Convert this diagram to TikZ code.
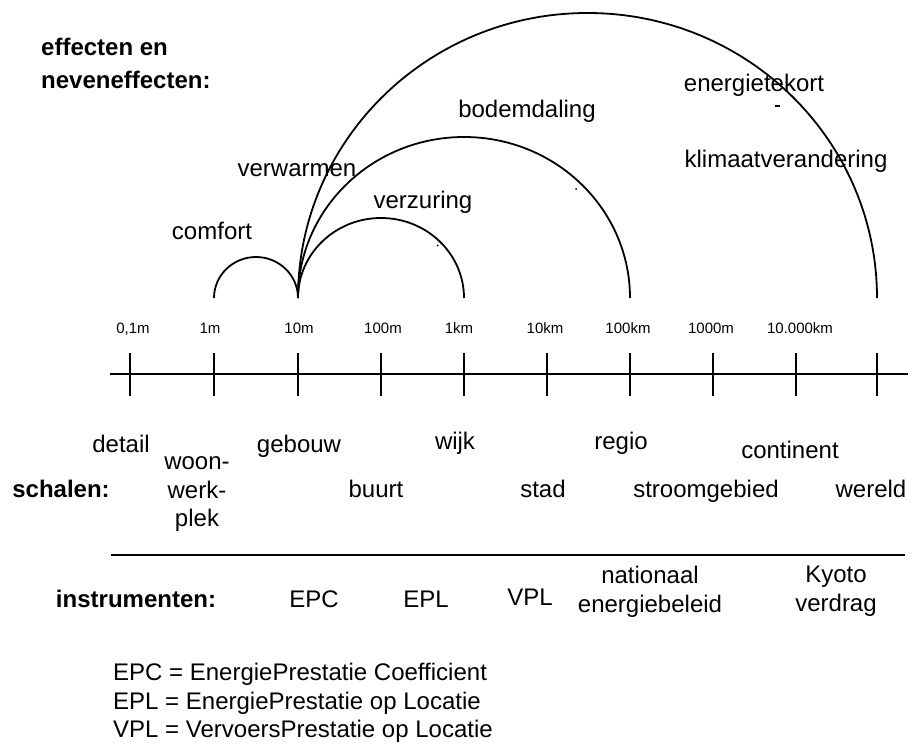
\documentclass[tikz,border=0pt]{standalone}
\usepackage{fontspec}
\setmainfont{Liberation Sans}
\usetikzlibrary{positioning}

\begin{document}
\begin{tikzpicture}[x=1pt, y=-1pt,
    tekst/.style={anchor=base, inner sep=0pt, font=\fontsize{24}{28.5}\selectfont},
    kop/.style={tekst, font=\fontsize{24}{33}\selectfont\bfseries},
    maat/.style={anchor=base, inner sep=0pt, font=\fontsize{15}{18}\selectfont},
    boog/.style={line width=1.8pt},
    as/.style={line width=2.4pt}]
    \useasboundingbox (0,0) rectangle (915,746);

    % heading top left
    \node[kop, anchor=north west, align=left] (effecten) at (41,38) {effecten en\\neveneffecten:};

    % scale axis with ticks
    \coordinate (asL) at (110,374);
    \coordinate (asR) at (908,374);
    \draw[as] (asL) -- (asR);
    \foreach \x [count=\i from 0] in {130,214,298,381,464,547,630,713,796,877} {
        \draw[line width=2pt] (\x,353) -- (\x,396);
        \coordinate (voet\i) at (\x,298);
    }
    \foreach \x/\m in {133/{0,1m},210/1m,299/10m,383/100m,459/1km,545/10km,628/100km,711/1000m,800/10.000km}
        \node[maat] (m\x) at (\x,333) {\m};

    % arcs of the effects
    \draw[boog] (voet1) arc[start angle=180, end angle=360, x radius=42, y radius=41];
    \draw[boog] (voet2) arc[start angle=180, end angle=360, x radius=83, y radius=80];
    \draw[boog] (voet2) arc[start angle=180, end angle=360, x radius=166, y radius=161];
    \draw[boog] (voet2) arc[start angle=180, end angle=360, x radius=289.5, y radius=285];

    % effect labels
    \node[tekst] (comfort) at (212,239) {comfort};
    \node[tekst] (verwarmen) at (297,177) {verwarmen};
    \node[tekst] (verzuring) at (423,208) {verzuring};
    \node[tekst] (bodemdaling) at (527,118) {bodemdaling};
    \node[tekst] (energietekort) at (754,92) {energietekort};
    \node[tekst] (klimaat) at (786,168) {klimaatverandering};
    \fill (437.5,245.5) circle (1pt);
    \fill (576,189) circle (1pt);
    \fill (775,105.5) rectangle (780,107.5);

    % scales
    \node[kop] (schalen) at (61,497) {schalen:};
    \node[tekst] (detail) at (121,452) {detail};
    \node[tekst, anchor=north, align=center] (woon) at (197,456.5) {woon-\\werk-\\plek};
    \node[tekst] (gebouw) at (299,452) {gebouw};
    \node[tekst] (buurt) at (376,497) {buurt};
    \node[tekst] (wijk) at (455,449) {wijk};
    \node[tekst] (stad) at (543,497) {stad};
    \node[tekst] (regio) at (621,449) {regio};
    \node[tekst] (stroomgebied) at (706,497) {stroomgebied};
    \node[tekst] (continent) at (790,458) {continent};
    \node[tekst] (wereld) at (871,497) {wereld};

    % separator
    \coordinate (scheidL) at (111,555);
    \coordinate (scheidR) at (905,555);
    \draw[as] (scheidL) -- (scheidR);

    % instruments
    \node[kop] (instrumenten) at (136,607) {instrumenten:};
    \node[tekst] (epc) at (314,607) {EPC};
    \node[tekst] (epl) at (426,607) {EPL};
    \node[tekst] (vpl) at (530,605) {VPL};
    \node[tekst, anchor=north, align=center] (beleid) at (650,566) {nationaal\\energiebeleid};
    \node[tekst, anchor=north, align=center] (kyoto) at (836,566) {Kyoto\\verdrag};

    % legend
    \node[tekst, anchor=base west] (uitlegEPC) at (113,680) {EPC = EnergiePrestatie Coefficient};
    \node[tekst, anchor=base west] (uitlegEPL) at (113,709) {EPL = EnergiePrestatie op Locatie};
    \node[tekst, anchor=base west] (uitlegVPL) at (113,737) {VPL = VervoersPrestatie op Locatie};
\end{tikzpicture}
\end{document}
